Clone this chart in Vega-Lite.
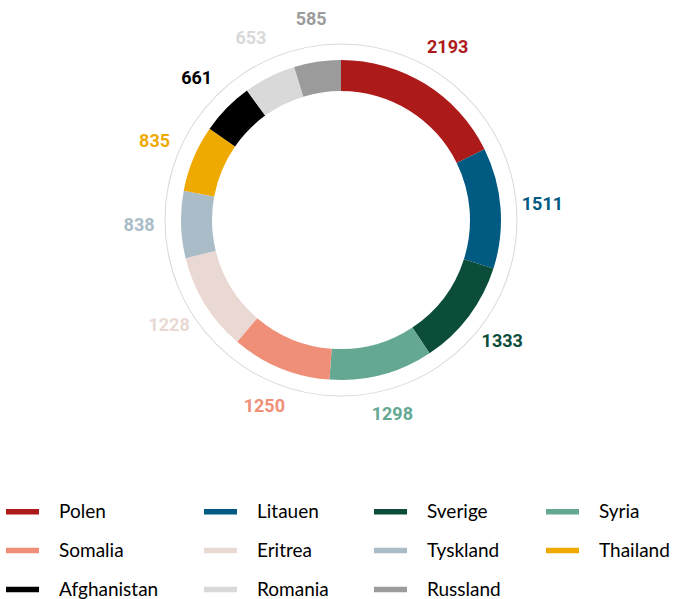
{
  "$schema": "https://vega.github.io/schema/vega-lite/v6.json",
  "width": 682,
  "height": 440,
  "padding": 0,
  "background": "white",
  "config": {"view": {"stroke": null}},
  "datasets": {
    "d": [
      {"land": "Polen", "antall": 2193},
      {"land": "Litauen", "antall": 1511},
      {"land": "Sverige", "antall": 1333},
      {"land": "Syria", "antall": 1298},
      {"land": "Somalia", "antall": 1250},
      {"land": "Eritrea", "antall": 1228},
      {"land": "Tyskland", "antall": 838},
      {"land": "Thailand", "antall": 835},
      {"land": "Afghanistan", "antall": 661},
      {"land": "Romania", "antall": 653},
      {"land": "Russland", "antall": 585}
    ]
  },
  "layer": [
    {
      "data": {"values": [{"ring": 1}]},
      "mark": {"type": "arc", "radius": 176.5, "radius2": 175.5, "theta": 0, "theta2": 6.2832, "color": "#d9d9d9"},
      "encoding": {}
    },
    {
      "data": {"name": "d"},
      "mark": {"type": "arc", "radius": 160, "radius2": 129},
      "encoding": {
        "theta": {"field": "antall", "type": "quantitative", "stack": true},
        "order": {"field": "antall", "type": "quantitative", "sort": "descending"},
        "color": {
          "field": "land",
          "type": "nominal",
          "sort": null,
          "scale": {
            "domain": ["Polen", "Litauen", "Sverige", "Syria", "Somalia", "Eritrea", "Tyskland", "Thailand", "Afghanistan", "Romania", "Russland"],
            "range": ["#ad1a1a", "#005a82", "#0b4d3a", "#64a893", "#f08f78", "#ead9d3", "#a9bcc8", "#eeaa00", "#000000", "#d9d9d9", "#9b9b9b"]
          },
          "legend": {
            "title": null,
            "orient": "bottom",
            "columns": 4,
            "direction": "horizontal",
            "symbolType": "M-1,-0.16H1V0.16H-1Z",
            "symbolSize": 1089,
            "symbolStrokeWidth": 0,
            "labelFont": "Lato",
            "labelFontSize": 19,
            "labelColor": "#000000",
            "labelOffset": 20,
            "labelLimit": 200,
            "rowPadding": 12,
            "columnPadding": 45,
            "offset": 49,
            "padding": 6
          }
        }
      }
    },
    {
      "data": {"name": "d"},
      "mark": {"type": "text", "radius": 202, "font": "Roboto", "fontWeight": "bold", "fontSize": 18},
      "encoding": {
        "theta": {"field": "antall", "type": "quantitative", "stack": true},
        "order": {"field": "antall", "type": "quantitative", "sort": "descending"},
        "text": {"field": "antall", "type": "quantitative"},
        "color": {"field": "land", "type": "nominal", "sort": null}
      }
    }
  ]
}
